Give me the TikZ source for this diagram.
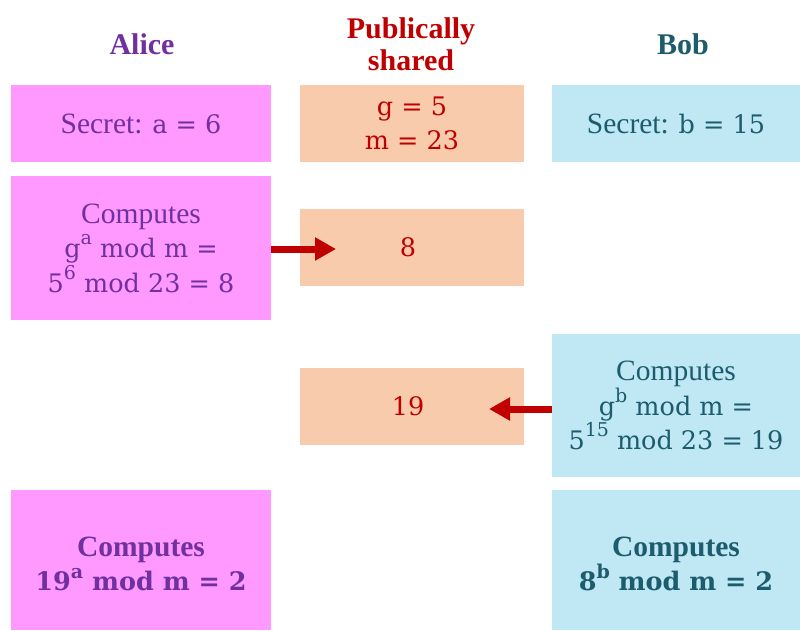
\documentclass[tikz,border=0pt]{standalone}
\usepackage{fontspec}
\setmainfont{Liberation Serif}
\newfontfamily\mathff{DejaVu Serif}
\usetikzlibrary{arrows.meta}
\definecolor{alicefill}{HTML}{FF99FF}
\definecolor{pubfill}{HTML}{F8CBAD}
\definecolor{bobfill}{HTML}{BFE7F4}
\definecolor{alicetxt}{HTML}{7030A0}
\definecolor{pubtxt}{HTML}{C00000}
\definecolor{bobtxt}{HTML}{1D5C6C}
\newcommand{\mf}[1]{{\mathff\fontsize{25.5}{34}\selectfont #1}}
\newcommand{\myup}[1]{\raisebox{0.5em}{\fontsize{19}{19}\selectfont #1}}
\tikzset{
  base/.style={inner sep=0pt, align=center, font=\fontsize{29.5}{34.5}\selectfont},
  alicebox/.style={base, fill=alicefill, text=alicetxt},
  pubbox/.style={base, fill=pubfill, text=pubtxt},
  bobbox/.style={base, fill=bobfill, text=bobtxt},
  boldtxt/.style={font=\fontsize{29.5}{34.5}\selectfont\bfseries},
  head/.style={inner sep=0pt, align=center, font=\fontsize{30}{32}\selectfont\bfseries},
  sendarrow/.style={draw=pubtxt, line width=7pt, -{Triangle[length=21pt,width=22pt]}}
}
\begin{document}
\begin{tikzpicture}[x=1pt,y=-1pt]
\useasboundingbox (0,0) rectangle (800,631);
\node[head, text=alicetxt] (hA) at (142,44) {Alice};
\node[head, text=pubtxt] (hP) at (411,44) {Publically\\shared};
\node[head, text=bobtxt] (hB) at (683,44) {Bob};

\node[alicebox, minimum width=260pt, minimum height=77pt] (as) at (141,123.5) {Secret: \mf{a = 6}};
\node[pubbox, minimum width=224pt, minimum height=77pt] (pg) at (412,123.5) {\mf{g = 5}\\\mf{m = 23}};
\node[bobbox, minimum width=248pt, minimum height=77pt] (bs) at (676,123.5) {Secret: \mf{b = 15}};

\node[alicebox, minimum width=260pt, minimum height=144pt] (ac) at (141,248) {Computes\\\mf{g\myup{a} mod m =}\\\mf{5\myup{6} mod 23 = 8}};
\node[pubbox, minimum width=224pt, minimum height=77pt] (p8) at (412,247.5) {\hspace{-8pt}\mf{8}};

\node[bobbox, minimum width=248pt, minimum height=143pt] (bc) at (676,405.5) {Computes\\\mf{g\myup{b} mod m =}\\\mf{5\myup{15} mod 23 = 19}};
\node[pubbox, minimum width=224pt, minimum height=77pt] (p19) at (412,406.5) {\hspace{-8pt}\mf{19}};

\node[alicebox, boldtxt, minimum width=260pt, minimum height=140pt] (af) at (141,560) {};
\node[alicebox, boldtxt, fill=none] (aft) at (141,564) {Computes\\\mf{19\myup{a} mod m = 2}};
\node[bobbox, boldtxt, minimum width=248pt, minimum height=140pt] (bf) at (676,560) {};
\node[bobbox, boldtxt, fill=none] (bft) at (676,564) {Computes\\\mf{8\myup{b} mod m = 2}};

\coordinate (e8) at (336,249);
\coordinate (e19) at (489,409);
\draw[sendarrow] (ac.east |- e8) -- (e8);
\draw[sendarrow] (bc.west |- e19) -- (e19);
\end{tikzpicture}
\end{document}
